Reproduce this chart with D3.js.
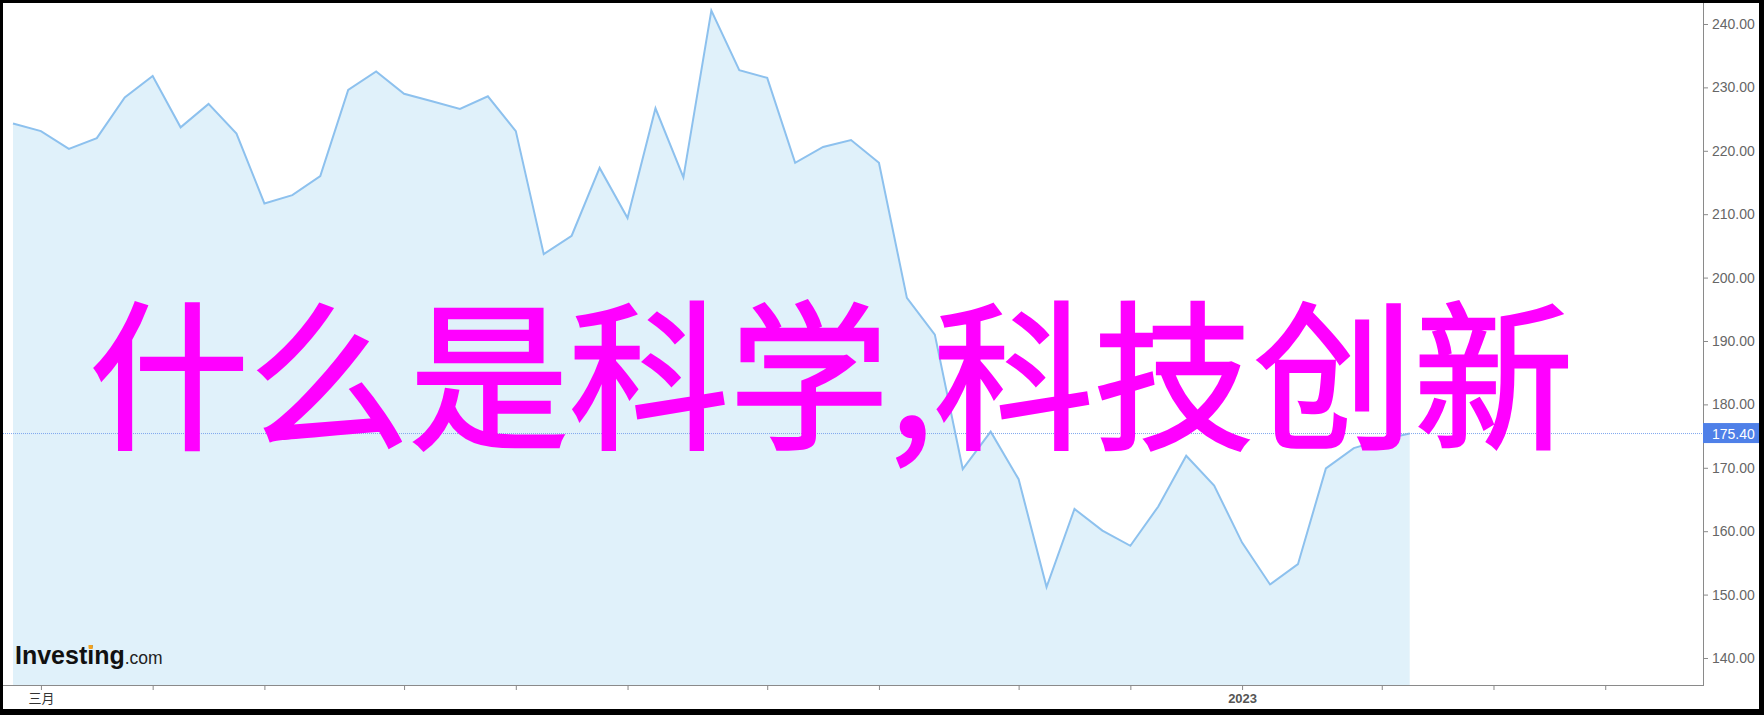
<!DOCTYPE html>
<html>
<head>
<meta charset="utf-8">
<script src="https://cdn.jsdelivr.net/npm/d3@7"></script>
<style>
  html, body { margin: 0; padding: 0; background: #000; }
  svg { display: block; }
</style>
</head>
<body>
<svg id="chart" width="1764" height="715"></svg>
<script>
// ---- data (weekly closes) ----
const weeks = [
  "2022-02-28","2022-03-07","2022-03-14","2022-03-21","2022-03-28","2022-04-04","2022-04-11","2022-04-18","2022-04-25",
  "2022-05-02","2022-05-09","2022-05-16","2022-05-23","2022-05-30","2022-06-06","2022-06-13","2022-06-20","2022-06-27",
  "2022-07-04","2022-07-11","2022-07-18","2022-07-25","2022-08-01","2022-08-08","2022-08-15","2022-08-22","2022-08-29",
  "2022-09-05","2022-09-12","2022-09-19","2022-09-26","2022-10-03","2022-10-10","2022-10-17","2022-10-24","2022-10-31",
  "2022-11-07","2022-11-14","2022-11-21","2022-11-28","2022-12-05","2022-12-12","2022-12-19","2022-12-26","2023-01-02",
  "2023-01-09","2023-01-16","2023-01-23","2023-01-30","2023-02-06","2023-02-13"
];
const closes = [
  224.3, 223.1, 220.3, 222.0, 228.4, 231.8, 223.7, 227.4, 222.7,
  211.7, 213.0, 216.0, 229.6, 232.5, 229.0, 227.8, 226.6, 228.6,
  223.1, 203.7, 206.6, 217.3, 209.4, 226.7, 215.8, 242.1, 232.7,
  231.5, 218.1, 220.6, 221.7, 218.1, 196.8, 191.0, 169.8, 175.7,
  168.2, 151.2, 163.5, 160.1, 157.7, 163.9, 171.9, 167.2, 158.2,
  151.6, 154.8, 169.9, 173.1, 174.4, 175.4
];
const lastPrice = 175.40;
const xTickDates = ["2022-03-07","2022-04-04","2022-05-02","2022-06-06","2022-07-04","2022-08-01","2022-09-05",
                    "2022-10-03","2022-11-07","2022-12-05","2023-01-02","2023-02-06","2023-03-06","2023-04-03"];
const xTickLabels = ["三月","","","","","","","","","","2023","","",""];
const yTickValues = [140,150,160,170,180,190,200,210,220,230,240];
const xDomainEnd = "2023-04-27T12:00";
const yDomain = [135.74, 243.31];
const title = "什么是科学,科技创新";

// ---- layout ----
const W = 1764, H = 715;
const plot = { left: 13, right: 1703, top: 3, bottom: 685 };
const parse = d3.utcParse("%Y-%m-%d");
const parseEnd = d3.utcParse("%Y-%m-%dT%H:%M");

const data = weeks.map((w, i) => ({ date: parse(w), value: closes[i] }));

const x = d3.scaleUtc()
  .domain([parse(weeks[0]), parseEnd(xDomainEnd)])
  .range([plot.left, plot.right]);
const y = d3.scaleLinear().domain(yDomain).range([plot.bottom, plot.top]);

const svg = d3.select("#chart");

// frame
svg.append("rect").attr("x", 0).attr("y", 0).attr("width", W).attr("height", H).attr("fill", "#000");
svg.append("rect").attr("x", 3).attr("y", 3).attr("width", 1756).attr("height", 706).attr("fill", "#fff");

// area + line
const area = d3.area().x(d => x(d.date)).y0(plot.bottom).y1(d => y(d.value));
const line = d3.line().x(d => x(d.date)).y(d => y(d.value));

svg.append("path").datum(data).attr("d", area).attr("fill", "#e0f1fa");
svg.append("path").datum(data).attr("d", line)
  .attr("fill", "none").attr("stroke", "#8dc1ee").attr("stroke-width", 2)
  .attr("stroke-linejoin", "miter");

// last price dotted line
svg.append("line")
  .attr("x1", 3).attr("x2", plot.right)
  .attr("y1", y(lastPrice)).attr("y2", y(lastPrice))
  .attr("stroke", "#7ea6ee").attr("stroke-width", 1).attr("stroke-dasharray", "1,1");

// y axis (right)
const yAxis = d3.axisRight(y).tickValues(yTickValues).tickFormat(d3.format(".2f")).tickSize(5).tickPadding(4);
const gy = svg.append("g").attr("transform", `translate(${plot.right},0)`).call(yAxis);
gy.select(".domain").attr("stroke", "#8a8a8a").attr("d", `M0.5,${plot.top}V${plot.bottom}`);
gy.selectAll(".tick line").attr("stroke", "#8a8a8a");
gy.selectAll(".tick text").attr("fill", "#666").attr("font-size", 14)
  .attr("font-family", "'Liberation Sans', Arial, sans-serif");

// x axis
const xAxis = d3.axisBottom(x).tickValues(xTickDates.map(parse))
  .tickFormat((d, i) => xTickLabels[i]).tickSize(5).tickPadding(4);
const gx = svg.append("g").attr("transform", `translate(0,${plot.bottom})`).call(xAxis);
gx.select(".domain").attr("stroke", "#8a8a8a").attr("d", `M3,0.5H${plot.right + 1}`);
gx.selectAll(".tick line").attr("stroke", "#8a8a8a");
gx.selectAll(".tick text")
  .attr("font-size", 13)
  .attr("font-family", "'Liberation Sans', Arial, 'Noto Sans CJK SC', sans-serif")
  .attr("fill", (d, i) => xTickLabels[i] === "2023" ? "#555" : "#333")
  .attr("font-weight", (d, i) => xTickLabels[i] === "2023" ? "bold" : "normal");

// last price label
const ly = y(lastPrice);
svg.append("rect").attr("x", plot.right).attr("y", ly - 10.5).attr("width", 56).attr("height", 20)
  .attr("fill", "#4f80e8");
svg.append("text").attr("x", plot.right + 9).attr("y", ly).attr("dy", "0.36em")
  .attr("fill", "#fff").attr("font-size", 14)
  .attr("font-family", "'Liberation Sans', Arial, sans-serif")
  .text(d3.format(".2f")(lastPrice));

// Investing.com logo
const logo = svg.append("text").attr("x", 15).attr("y", 664)
  .attr("font-family", "'Liberation Sans', Arial, sans-serif");
logo.append("tspan").attr("font-size", 25).attr("font-weight", "bold").attr("fill", "#111")
  .text("Investing");
logo.append("tspan").attr("font-size", 17.5).attr("fill", "#222").text(".com");
// orange accent on the second "i"
const ext = logo.node().getExtentOfChar(6);
svg.append("rect").attr("x", ext.x + 1.5).attr("y", 645).attr("width", Math.max(2, ext.width - 3)).attr("height", 4)
  .attr("fill", "#f6a21c");

// big magenta title
svg.append("text")
  .attr("x", 89).attr("y", 437)
  .attr("font-family", "'Noto Sans CJK SC', 'Noto Sans CJK JP', sans-serif")
  .attr("font-size", 160)
  .attr("fill", "#ff00ff")
  .attr("stroke", "#ff00ff")
  .attr("stroke-width", 2.5)
  .attr("stroke-linejoin", "miter")
  .text(title);
</script>
</body>
</html>
